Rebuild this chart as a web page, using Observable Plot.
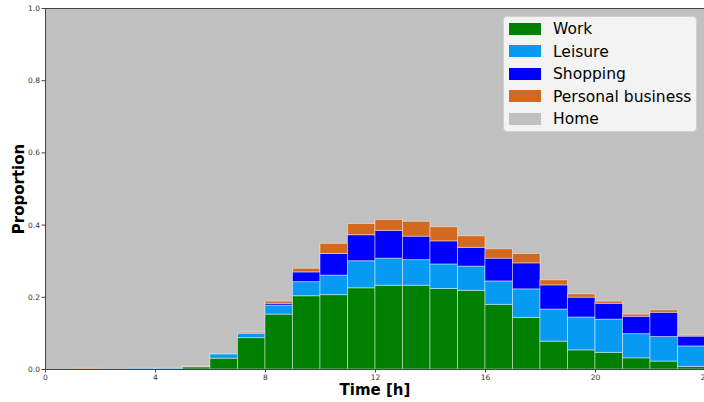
<!DOCTYPE html>
<html>
<head>
<meta charset="utf-8">
<script src="https://cdn.jsdelivr.net/npm/d3@7"></script>
<script src="https://cdn.jsdelivr.net/npm/@observablehq/plot@0.6"></script>
<style>
  html, body { margin: 0; padding: 0; background: white; overflow: hidden; width: 704px; height: 402px; }
  #wrap { position: relative; width: 704px; height: 402px; }
  #legend { position: absolute; left: 503px; top: 16px; width: 192px; height: 114px;
    background: #f3f3f3; border: 1px solid #d0d0d0; border-radius: 4px;
    font-family: "DejaVu Sans", sans-serif; font-size: 15.5px; color: #000; }
  .item { position: absolute; left: 5px; height: 22px; line-height: 22px; white-space: nowrap; }
  .sw { display: inline-block; width: 32px; height: 12px; vertical-align: middle; margin-right: 12px; position: relative; top: -1px; }
</style>
</head>
<body>
<div id="wrap"></div>
<script>
const hours = d3.range(24);
const activities = ["Work", "Leisure", "Shopping", "Personal business"];
const colors = ["#008000", "#069AF3", "#0000FF", "#D2691E"];
const homeColor = "#C0C0C0";
const work     = [0, 0, 0, 0, 0, 0.006, 0.030, 0.087, 0.152, 0.203, 0.206, 0.225, 0.232, 0.232, 0.223, 0.218, 0.179, 0.143, 0.077, 0.053, 0.046, 0.031, 0.022, 0.007];
const leisure  = [0, 0, 0, 0.002, 0.002, 0.001, 0.012, 0.012, 0.025, 0.039, 0.054, 0.075, 0.075, 0.071, 0.068, 0.067, 0.065, 0.079, 0.089, 0.091, 0.092, 0.067, 0.068, 0.057];
const shopping = [0, 0, 0, 0, 0, 0, 0, 0.001, 0.005, 0.027, 0.060, 0.072, 0.077, 0.065, 0.064, 0.052, 0.063, 0.072, 0.067, 0.055, 0.044, 0.048, 0.067, 0.027];
const personal = [0, 0.002, 0, 0, 0, 0.001, 0.001, 0.003, 0.006, 0.010, 0.028, 0.031, 0.030, 0.041, 0.039, 0.032, 0.026, 0.026, 0.014, 0.009, 0.006, 0.006, 0.007, 0.003];
const xTicks = [0, 4, 8, 12, 16, 20, 24];
const yTicks = [0, 0.2, 0.4, 0.6, 0.8, 1.0];

const series = [work, leisure, shopping, personal];
const data = [];
hours.forEach((h, i) => {
  activities.forEach((a, k) => data.push({hour: h, activity: a, value: series[k][i]}));
});

const chart = Plot.plot({
  width: 705, height: 402,
  marginLeft: 45, marginRight: 0, marginTop: 8, marginBottom: 33,
  style: {maxWidth: "none", overflow: "visible", fontFamily: "DejaVu Sans, sans-serif", background: "transparent"},
  x: {domain: [0, 24]},
  y: {domain: [0, 1]},
  color: {domain: activities, range: colors},
  marks: [
    Plot.frame({fill: homeColor, stroke: null}),
    Plot.rectY(data, Plot.stackY({
      x1: "hour", x2: d => d.hour + 1, y: "value", z: "activity",
      order: activities, fill: "activity",
      stroke: "white", strokeOpacity: 0.45, strokeWidth: 1
    })),
    Plot.frame({stroke: "#444", strokeWidth: 1}),
    Plot.axisX({ticks: xTicks, tickSize: 3.5, tickPadding: 2, fontSize: 7.5, label: null, stroke: "#444", fill: "#333"}),
    Plot.axisY({ticks: yTicks, tickFormat: d3.format(".1f"), tickSize: 3.5, tickPadding: 2, fontSize: 7.5, label: null, stroke: "#444", fill: "#333"})
  ]
});

const svg = d3.select(chart);
svg.append("text").text("Time [h]")
  .attr("x", 375).attr("y", 395)
  .attr("text-anchor", "middle")
  .attr("font-family", "DejaVu Sans, sans-serif")
  .attr("font-weight", "bold").attr("font-size", 15).attr("fill", "#000");
svg.append("text").text("Proportion")
  .attr("transform", "translate(24,189) rotate(-90)")
  .attr("text-anchor", "middle")
  .attr("font-family", "DejaVu Sans, sans-serif")
  .attr("font-weight", "bold").attr("font-size", 15).attr("fill", "#000");

const wrap = document.getElementById("wrap");
wrap.appendChild(chart);

const legend = document.createElement("div");
legend.id = "legend";
const names = activities.concat(["Home"]);
const cols = colors.concat([homeColor]);
names.forEach((n, i) => {
  const it = document.createElement("div");
  it.className = "item";
  it.style.top = (1 + i * 22.6) + "px";
  const sw = document.createElement("span");
  sw.className = "sw";
  sw.style.background = cols[i];
  it.appendChild(sw);
  it.appendChild(document.createTextNode(n));
  legend.appendChild(it);
});
wrap.appendChild(legend);
</script>
</body>
</html>
